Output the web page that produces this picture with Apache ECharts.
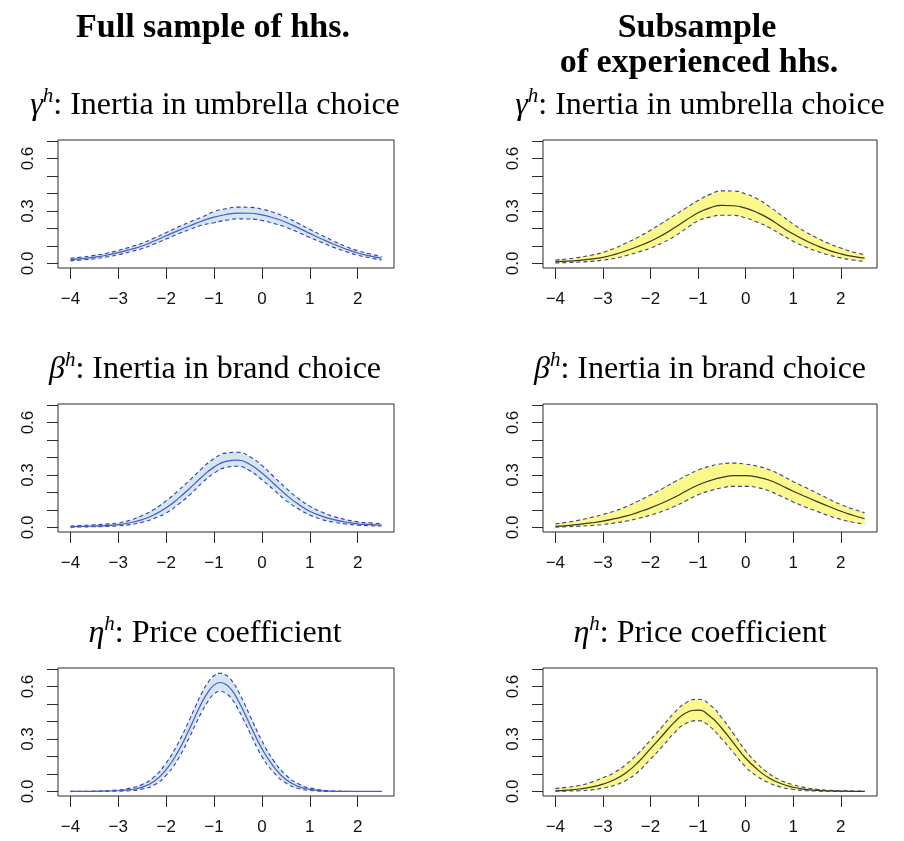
<!DOCTYPE html>
<html>
<head>
<meta charset="utf-8">
<script src="https://cdn.jsdelivr.net/npm/echarts@6/dist/echarts.min.js"></script>
<style>
  html, body { margin: 0; padding: 0; background: #fff; }
  #chart { width: 904px; height: 841px; }
</style>
</head>
<body>
<div id="chart"></div>
<script>
// Evaluation grid used by most density panels
const xs = [-4, -3.75, -3.5, -3.25, -3, -2.75, -2.5, -2.25, -2, -1.75, -1.5, -1.25, -1,
            -0.75, -0.5, -0.25, 0, 0.25, 0.5, 0.75, 1, 1.25, 1.5, 1.75, 2, 2.25, 2.5];
// Finer grid around the narrow price-coefficient peak
const xsEtaFull = [-4, -3.5, -3, -2.75, -2.5, -2.25, -2, -1.75, -1.5, -1.375, -1.25, -1.125, -1,
                   -0.875, -0.75, -0.625, -0.5, -0.375, -0.25, 0, 0.25, 0.5, 0.75, 1, 1.5, 2, 2.5];

// Axis ticks and labels
const xTicks = [-4, -3, -2, -1, 0, 1, 2];
const yTicks = [0, 0.1, 0.2, 0.3, 0.4, 0.5, 0.6, 0.7];
const yLabels = [0, 0.3, 0.6];

// gamma^h, full sample
const gammaFullMean = [0.022, 0.028, 0.036, 0.047, 0.062, 0.080, 0.100, 0.128, 0.158, 0.188, 0.216, 0.243, 0.265,
                       0.280, 0.288, 0.287, 0.278, 0.260, 0.236, 0.205, 0.172, 0.140, 0.110, 0.083, 0.060, 0.043, 0.030];
const gammaFullHi   = [0.030, 0.037, 0.046, 0.058, 0.075, 0.094, 0.116, 0.145, 0.176, 0.208, 0.238, 0.266, 0.297,
                       0.313, 0.322, 0.321, 0.311, 0.291, 0.265, 0.231, 0.195, 0.161, 0.128, 0.098, 0.073, 0.055, 0.040];
const gammaFullLo   = [0.015, 0.020, 0.027, 0.037, 0.050, 0.067, 0.085, 0.111, 0.140, 0.169, 0.195, 0.219, 0.233,
                       0.247, 0.255, 0.254, 0.246, 0.229, 0.207, 0.179, 0.149, 0.120, 0.092, 0.068, 0.047, 0.032, 0.020];

// gamma^h, experienced households
const gammaExpMean = [0.010, 0.013, 0.018, 0.025, 0.035, 0.052, 0.074, 0.099, 0.127, 0.162, 0.204, 0.248, 0.290,
                      0.318, 0.332, 0.330, 0.316, 0.290, 0.255, 0.210, 0.168, 0.132, 0.101, 0.075, 0.055, 0.040, 0.030];
const gammaExpHi   = [0.020, 0.026, 0.035, 0.047, 0.063, 0.088, 0.118, 0.152, 0.190, 0.232, 0.275, 0.318, 0.360,
                      0.395, 0.415, 0.414, 0.398, 0.368, 0.325, 0.275, 0.225, 0.182, 0.146, 0.114, 0.088, 0.066, 0.050];
const gammaExpLo   = [0.003, 0.005, 0.008, 0.012, 0.019, 0.030, 0.046, 0.066, 0.088, 0.118, 0.154, 0.200, 0.244,
                      0.265, 0.276, 0.275, 0.260, 0.236, 0.204, 0.165, 0.127, 0.095, 0.069, 0.048, 0.032, 0.020, 0.012];

// beta^h, full sample
const betaFullMean = [0.004, 0.006, 0.008, 0.011, 0.016, 0.027, 0.045, 0.073, 0.112, 0.165, 0.226, 0.290, 0.345,
                      0.378, 0.385, 0.360, 0.311, 0.250, 0.188, 0.135, 0.093, 0.065, 0.045, 0.031, 0.021, 0.016, 0.013];
const betaFullHi   = [0.008, 0.011, 0.015, 0.019, 0.026, 0.042, 0.068, 0.104, 0.152, 0.210, 0.272, 0.338, 0.394,
                      0.425, 0.430, 0.404, 0.355, 0.290, 0.226, 0.168, 0.122, 0.088, 0.063, 0.045, 0.032, 0.026, 0.022];
const betaFullLo   = [0.001, 0.003, 0.004, 0.006, 0.009, 0.016, 0.030, 0.052, 0.083, 0.131, 0.188, 0.255, 0.310,
                      0.343, 0.350, 0.324, 0.273, 0.215, 0.155, 0.108, 0.071, 0.046, 0.030, 0.020, 0.013, 0.010, 0.008];

// beta^h, experienced households
const betaExpMean = [0.006, 0.011, 0.018, 0.026, 0.036, 0.050, 0.066, 0.088, 0.112, 0.140, 0.172, 0.208, 0.243,
                     0.268, 0.286, 0.296, 0.296, 0.288, 0.270, 0.240, 0.207, 0.177, 0.148, 0.120, 0.093, 0.070, 0.050];
const betaExpHi   = [0.020, 0.030, 0.042, 0.057, 0.074, 0.095, 0.120, 0.152, 0.186, 0.222, 0.260, 0.296, 0.328,
                     0.350, 0.364, 0.368, 0.362, 0.350, 0.330, 0.298, 0.262, 0.230, 0.196, 0.162, 0.131, 0.105, 0.084];
const betaExpLo   = [0.002, 0.004, 0.007, 0.011, 0.017, 0.026, 0.037, 0.052, 0.070, 0.093, 0.120, 0.153, 0.187,
                     0.210, 0.227, 0.235, 0.235, 0.228, 0.208, 0.178, 0.146, 0.117, 0.092, 0.067, 0.046, 0.030, 0.018];

// eta^h, full sample (on xsEtaFull)
const etaFullMean = [0.000, 0.001, 0.004, 0.010, 0.025, 0.058, 0.125, 0.228, 0.365, 0.440, 0.510, 0.568, 0.608,
                     0.623, 0.612, 0.578, 0.522, 0.455, 0.382, 0.245, 0.140, 0.068, 0.030, 0.012, 0.001, 0.000, 0.000];
const etaFullHi   = [0.001, 0.002, 0.009, 0.019, 0.040, 0.083, 0.163, 0.276, 0.418, 0.495, 0.566, 0.624, 0.662,
                     0.676, 0.665, 0.632, 0.576, 0.508, 0.434, 0.290, 0.175, 0.094, 0.045, 0.020, 0.003, 0.000, 0.000];
const etaFullLo   = [0.000, 0.000, 0.002, 0.004, 0.014, 0.037, 0.093, 0.186, 0.318, 0.390, 0.458, 0.516, 0.557,
                     0.572, 0.561, 0.527, 0.472, 0.406, 0.335, 0.200, 0.108, 0.048, 0.018, 0.006, 0.000, 0.000, 0.000];

// eta^h, experienced households
const etaExpMean = [0.004, 0.008, 0.014, 0.025, 0.042, 0.068, 0.110, 0.170, 0.245, 0.320, 0.395, 0.450, 0.465,
                    0.430, 0.360, 0.275, 0.190, 0.125, 0.075, 0.044, 0.024, 0.012, 0.006, 0.003, 0.002, 0.001, 0.001];
const etaExpHi   = [0.017, 0.024, 0.034, 0.052, 0.078, 0.110, 0.158, 0.220, 0.295, 0.372, 0.450, 0.508, 0.527,
                    0.495, 0.420, 0.328, 0.232, 0.158, 0.100, 0.062, 0.038, 0.022, 0.012, 0.007, 0.004, 0.003, 0.002];
const etaExpLo   = [0.001, 0.002, 0.004, 0.009, 0.020, 0.036, 0.066, 0.115, 0.185, 0.258, 0.335, 0.390, 0.405,
                    0.370, 0.300, 0.220, 0.140, 0.085, 0.048, 0.024, 0.011, 0.005, 0.002, 0.001, 0.000, 0.000, 0.000];

// Panel layout: row-major, left column = full sample, right column = experienced
const panels = [
  { x: xs,        mean: gammaFullMean, hi: gammaFullHi, lo: gammaFullLo, col: 0, row: 0 },
  { x: xs,        mean: gammaExpMean,  hi: gammaExpHi,  lo: gammaExpLo,  col: 1, row: 0 },
  { x: xs,        mean: betaFullMean,  hi: betaFullHi,  lo: betaFullLo,  col: 0, row: 1 },
  { x: xs,        mean: betaExpMean,   hi: betaExpHi,   lo: betaExpLo,   col: 1, row: 1 },
  { x: xsEtaFull, mean: etaFullMean,   hi: etaFullHi,   lo: etaFullLo,   col: 0, row: 2 },
  { x: xs,        mean: etaExpMean,    hi: etaExpHi,    lo: etaExpLo,    col: 1, row: 2 }
];

const colStyle = [
  { fill: '#d5e6f3', mean: '#4a5cc2', bound: '#2f3db2' },
  { fill: '#fbf98c', mean: '#383822', bound: '#3e4290' }
];

const gridLeft = [58, 543];
const gridWidth = [336, 334];
const gridTop = [140, 404, 668];
const gridHeight = 128;

const axisFont = 'Liberation Sans, Arial, sans-serif';
const serif = 'Liberation Serif, Times New Roman, serif';

const grids = [], xAxes = [], yAxes = [], series = [];

panels.forEach((p, i) => {
  const st = colStyle[p.col];
  const pairs = (ys) => p.x.map((x, k) => [x, ys[k]]);
  grids.push({
    left: gridLeft[p.col], top: gridTop[p.row], width: gridWidth[p.col], height: gridHeight,
    show: true, borderColor: '#2b2b2b', borderWidth: 1, backgroundColor: 'transparent'
  });
  xAxes.push({
    type: 'value', gridIndex: i, min: -4.26, max: 2.76,
    splitLine: { show: false },
    axisLine: { show: false, onZero: false },
    axisTick: { show: true, length: 11, inside: false, customValues: xTicks,
                lineStyle: { color: '#2b2b2b', width: 1 } },
    axisLabel: { customValues: xTicks, fontSize: 17, fontFamily: axisFont, color: '#111', margin: 23,
                 formatter: (v) => String(v).replace('-', '\u2212') }
  });
  yAxes.push({
    type: 'value', gridIndex: i, min: -0.026, max: 0.706,
    splitLine: { show: false },
    axisLine: { show: false, onZero: false },
    axisTick: { show: true, length: 11, customValues: yTicks,
                lineStyle: { color: '#2b2b2b', width: 1 } },
    axisLabel: { customValues: yLabels, rotate: 90, fontSize: 17, fontFamily: axisFont, color: '#111', margin: 21,
                 formatter: (v) => v.toFixed(1) }
  });

  // shaded pointwise band between lower and upper bound
  series.push({
    type: 'custom', xAxisIndex: i, yAxisIndex: i, silent: true, z: 1, clip: true,
    data: [[p.x[0], p.lo[0]]],
    renderItem: (params, api) => {
      const top = p.x.map((x, k) => api.coord([x, p.hi[k]]));
      const bottom = p.x.map((x, k) => api.coord([x, p.lo[k]])).reverse();
      return { type: 'polygon', shape: { points: top.concat(bottom) }, style: { fill: st.fill } };
    }
  });

  const common = { type: 'line', xAxisIndex: i, yAxisIndex: i, symbol: 'none', smooth: true, silent: true };
  // dashed bounds
  [p.hi, p.lo].forEach((b) => {
    series.push(Object.assign({}, common, {
      data: pairs(b), lineStyle: { color: st.bound, width: 1.1, type: [4, 3] }, z: 3
    }));
  });
  // posterior mean density
  series.push(Object.assign({}, common, {
    data: pairs(p.mean), lineStyle: { color: st.mean, width: 1.2 }, z: 4
  }));
});

// Headings and panel titles
const colCenter = [215, 700];
const rowTitle = [
  { g: 'γ', t: ': Inertia in umbrella choice', y: 104 },
  { g: 'β', t: ': Inertia in brand choice', y: 368 },
  { g: 'η', t: ': Price coefficient', y: 632 }
];
const headFont = 'bold 34px ' + serif;
const graphics = [
  { type: 'text', x: 213, y: 28,
    style: { text: 'Full sample of hhs.', font: headFont, fill: '#000', align: 'center', verticalAlign: 'middle' } },
  { type: 'text', x: 697, y: 28,
    style: { text: 'Subsample', font: headFont, fill: '#000', align: 'center', verticalAlign: 'middle' } },
  { type: 'text', x: 699, y: 63,
    style: { text: 'of experienced hhs.', font: headFont, fill: '#000', align: 'center', verticalAlign: 'middle' } }
];
rowTitle.forEach((r) => {
  colCenter.forEach((cx) => {
    graphics.push({
      type: 'text', x: cx, y: r.y,
      style: {
        text: '{g|' + r.g + '}{s|h}{t|' + r.t + '}',
        align: 'center', verticalAlign: 'middle', fill: '#000',
        rich: {
          g: { fontFamily: serif, fontStyle: 'italic', fontSize: 32, lineHeight: 36, verticalAlign: 'bottom' },
          s: { fontFamily: serif, fontStyle: 'italic', fontSize: 21, lineHeight: 21, verticalAlign: 'top' },
          t: { fontFamily: serif, fontSize: 32, lineHeight: 36, verticalAlign: 'bottom' }
        }
      }
    });
  });
});

const chart = echarts.init(document.getElementById('chart'), null, { renderer: 'canvas' });
chart.setOption({
  animation: false,
  backgroundColor: '#ffffff',
  grid: grids,
  xAxis: xAxes,
  yAxis: yAxes,
  series: series,
  graphic: graphics
});
</script>
</body>
</html>
